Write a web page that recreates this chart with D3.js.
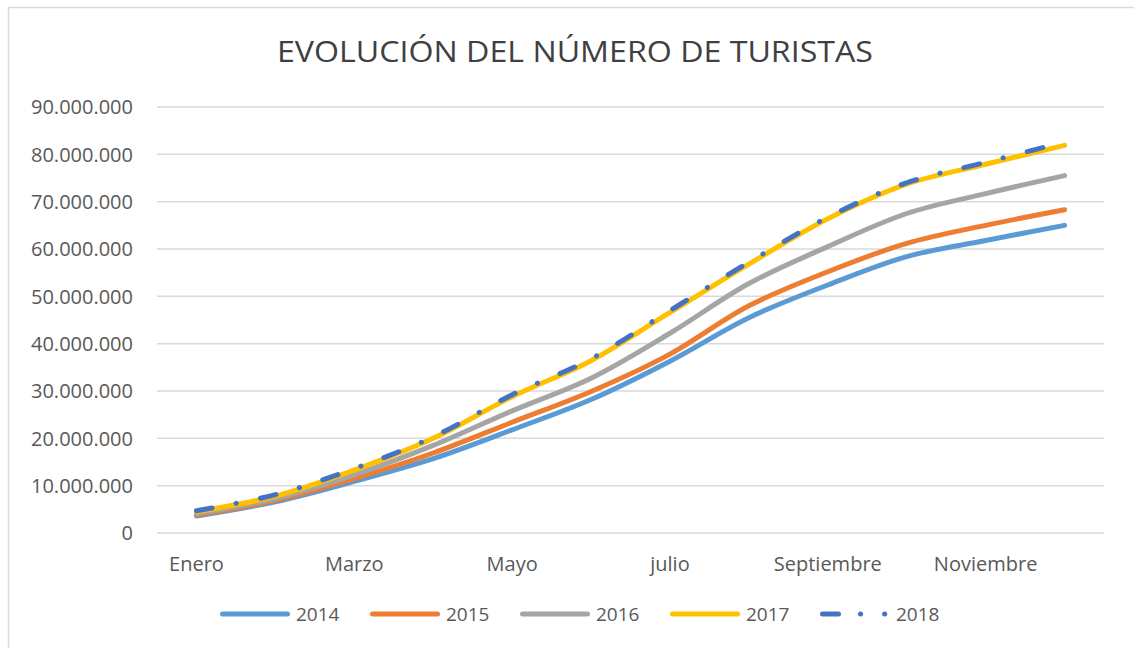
<!DOCTYPE html>
<html>
<head>
<meta charset="utf-8">
<script src="https://cdn.jsdelivr.net/npm/d3@7"></script>
<style>
  body { margin: 0; background: #fff; }
  text { font-family: "Open Sans", sans-serif; }
</style>
</head>
<body>
<div id="chart"></div>
<script>
//size
const width = 1134;
const height = 648;

//data
const months = ["Enero", "Febrero", "Marzo", "Abril", "Mayo", "Junio", "julio",
  "Agosto", "Septiembre", "Octubre", "Noviembre", "Diciembre"];
const years = ["2014", "2015", "2016", "2017", "2018"];
const t2014 = [3600000, 6600000, 10900000, 15700000, 21800000, 28200000, 36300000, 45500000, 52400000, 58400000, 61800000, 65000000];
const t2015 = [3800000, 6900000, 11500000, 16900000, 23400000, 29900000, 37800000, 48000000, 55200000, 61200000, 65000000, 68300000];
const t2016 = [4100000, 7300000, 12300000, 18500000, 25800000, 32700000, 42200000, 52700000, 60500000, 67500000, 71700000, 75500000];
const t2017 = [4500000, 7800000, 13300000, 20000000, 28800000, 36400000, 46600000, 56800000, 66400000, 73700000, 77900000, 81900000];
const t2018 = [4700000, 8100000, 13600000, 20300000, 29200000, 36800000, 47000000, 57200000, 66700000, 74000000, 78300000, 82600000];
const yTicks = [0, 10000000, 20000000, 30000000, 40000000, 50000000, 60000000, 70000000, 80000000, 90000000];

//series style
const seriesStyle = {
  "2014": { values: t2014, color: "#5B9BD5", dash: null },
  "2015": { values: t2015, color: "#ED7D31", dash: null },
  "2016": { values: t2016, color: "#A5A5A5", dash: null },
  "2017": { values: t2017, color: "#FFC000", dash: null },
  "2018": { values: t2018, color: "#4472C4", dash: "16 24.5 0.1 24.5" },
};

//number format 90.000.000
const esLocale = d3.formatLocale({ decimal: ",", thousands: ".", grouping: [3], currency: ["", " €"] });
const fmt = esLocale.format(",d");

//plot area
const plot = { left: 157, right: 1104, top: 107, bottom: 533 };

const x = d3.scaleBand().domain(months).range([plot.left, plot.right]);
const y = d3.scaleLinear().domain([0, 90000000]).range([plot.bottom, plot.top]);
const cx = (m) => x(m) + x.bandwidth() / 2;

const svg = d3.select("#chart")
  .append("svg")
  .attr("width", width)
  .attr("height", height);

//outer border
svg.append("rect")
  .attr("x", 8.5)
  .attr("y", 7.5)
  .attr("width", 1140)
  .attr("height", 660)
  .attr("fill", "none")
  .attr("stroke", "#d9d9d9")
  .attr("stroke-width", 1.5);

//title
svg.append("text")
  .attr("x", 575)
  .attr("y", 62)
  .attr("text-anchor", "middle")
  .attr("font-size", "30px")
  .attr("fill", "#404040")
  .attr("textLength", 596)
  .attr("lengthAdjust", "spacingAndGlyphs")
  .text("EVOLUCIÓN DEL NÚMERO DE TURISTAS");

//y gridlines + labels
const gY = svg.append("g").attr("class", "y-axis");
gY.selectAll("line")
  .data(yTicks)
  .enter()
  .append("line")
  .attr("x1", plot.left)
  .attr("x2", plot.right)
  .attr("y1", (d) => y(d))
  .attr("y2", (d) => y(d))
  .attr("stroke", "#d9d9d9")
  .attr("stroke-width", 1.5);

gY.selectAll("text")
  .data(yTicks)
  .enter()
  .append("text")
  .attr("x", 133)
  .attr("y", (d) => y(d))
  .attr("dy", "0.36em")
  .attr("text-anchor", "end")
  .attr("font-size", "20px")
  .attr("fill", "#595959")
  .text((d) => fmt(d));

//x labels (every other month)
svg.append("g")
  .attr("class", "x-axis")
  .selectAll("text")
  .data(months.filter((d, i) => i % 2 === 0))
  .enter()
  .append("text")
  .attr("x", (d) => cx(d))
  .attr("y", 571)
  .attr("text-anchor", "middle")
  .attr("font-size", "20px")
  .attr("fill", "#595959")
  .text((d) => d);

//lines
const line = d3.line()
  .x((d, i) => cx(months[i]))
  .y((d) => y(d))
  .curve(d3.curveCatmullRom.alpha(0.5));

svg.append("g")
  .attr("class", "series")
  .selectAll("path")
  .data(years)
  .enter()
  .append("path")
  .attr("d", (d) => line(seriesStyle[d].values))
  .attr("fill", "none")
  .attr("stroke", (d) => seriesStyle[d].color)
  .attr("stroke-width", 5)
  .attr("stroke-linecap", "round")
  .attr("stroke-linejoin", "round")
  .attr("stroke-dasharray", (d) => seriesStyle[d].dash);

//legend
const legendItem = svg.append("g")
  .attr("class", "legend")
  .selectAll("g")
  .data(years)
  .enter()
  .append("g")
  .attr("transform", (d, i) => `translate(${220 + i * 150},614)`);

legendItem.append("line")
  .attr("x1", 2.5)
  .attr("x2", (d) => (seriesStyle[d].dash ? 72.5 : 67.5))
  .attr("y1", 0)
  .attr("y2", 0)
  .attr("stroke", (d) => seriesStyle[d].color)
  .attr("stroke-width", 5)
  .attr("stroke-linecap", "round")
  .attr("stroke-dasharray", (d) => (seriesStyle[d].dash ? "16 22 0.1 24 0.1 30" : null));

legendItem.append("text")
  .attr("x", 76)
  .attr("y", 0)
  .attr("dy", "0.36em")
  .attr("font-size", "19px")
  .attr("fill", "#595959")
  .text((d) => d);
</script>
</body>
</html>
